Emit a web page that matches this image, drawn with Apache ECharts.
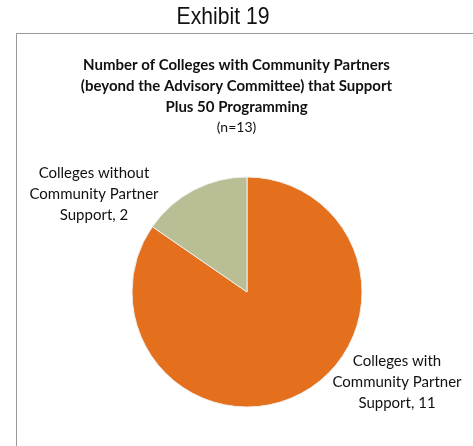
<!DOCTYPE html>
<html>
<head>
<meta charset="utf-8">
<script src="https://cdn.jsdelivr.net/npm/echarts@6/dist/echarts.min.js"></script>
</head>
<body style="margin:0">
<div id="main" style="width: 473px;height:446px;"></div>

<script type="text/javascript">
// 数据
var categories = ['Colleges with\nCommunity Partner\nSupport', 'Colleges without\nCommunity Partner\nSupport'];
var values = [11, 2];
var colors = ['#E4701E', '#B9BE94'];

var seriesData = [];
for (var i = 0; i < values.length; i++) {
    seriesData.push({
        name: categories[i],
        value: values[i],
        itemStyle: { color: colors[i] }
    });
}

var option = {
    animation: false,
    title: {
        text: 'Number of Colleges with Community Partners\n(beyond the Advisory Committee) that Support\nPlus 50 Programming',
        subtext: '(n=13)',
        left: 'center',
        top: 50,
        itemGap: 2,
        textStyle: {
            fontFamily: 'Lato',
            fontWeight: 'bold',
            fontSize: 15,
            lineHeight: 21,
            color: '#111'
        },
        subtextStyle: {
            fontFamily: 'Lato',
            fontSize: 14,
            color: '#111'
        }
    },
    graphic: [
        {
            type: 'text',
            x: 223,
            y: 17,
            scaleX: 0.88,
            style: {
                text: 'Exhibit 19',
                x: 0,
                y: 0,
                align: 'center',
                verticalAlign: 'middle',
                font: '24px "Liberation Sans"',
                fill: '#111'
            }
        },
        {
            type: 'polyline',
            shape: { points: [[16.5, 446], [16.5, 33.5], [473, 33.5]] },
            style: { stroke: '#999', lineWidth: 1, fill: null }
        }
    ],
    series: [{
        type: 'pie',
        center: [247, 292],
        radius: 115,
        startAngle: 90,
        clockwise: true,
        data: seriesData,
        itemStyle: { borderColor: '#eee', borderWidth: 1 },
        label: {
            show: true,
            formatter: '{b}, {c}',
            fontFamily: 'Lato',
            fontSize: 15,
            lineHeight: 21,
            color: '#111',
            align: 'center',
            overflow: 'none',
            width: 200
        },
        labelLine: { show: false },
        labelLayout: function (params) {
            if (params.dataIndex === 0) {
                return { x: 397, y: 382, align: 'center', verticalAlign: 'middle' };
            }
            return { x: 94, y: 194, align: 'center', verticalAlign: 'middle' };
        }
    }]
};

var myChart = echarts.init(document.getElementById('main'));
myChart.setOption(option);
</script>
</body>
</html>
